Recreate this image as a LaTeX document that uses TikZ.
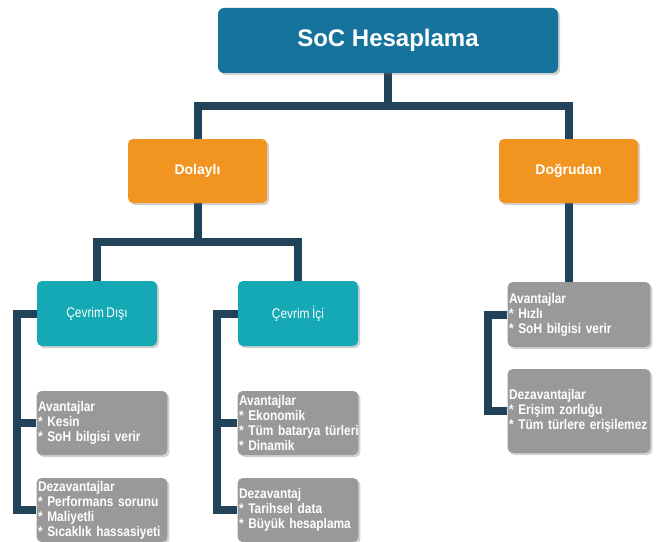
\documentclass[tikz,border=0pt]{standalone}
\usepackage{fontspec}
\setmainfont{Liberation Sans}
\newfontfamily\narrowfont[FakeStretch=0.85,WordSpace=0.75]{Liberation Sans}
\newfontfamily\narrowbold[FakeStretch=0.85,WordSpace=0.75]{Liberation Sans Bold}
\usetikzlibrary{shadows}
\definecolor{rootblue}{HTML}{15739C}
\definecolor{orangebox}{HTML}{F29420}
\definecolor{tealbox}{HTML}{15A9B6}
\definecolor{graybox}{HTML}{999999}
\definecolor{navyline}{HTML}{21435A}
\pgfdeclarelayer{bg}
\pgfsetlayers{bg,main}
\newcommand{\gl}[1]{\mbox{#1}}
\tikzset{
  px/.style={x=0.75pt,y=-0.75pt},
  shadowed/.style={drop shadow={shadow xshift=1.6pt,shadow yshift=-1.6pt,opacity=0.3,fill=black!60}},
  box/.style={rounded corners=3.75pt,text=white,inner sep=0pt,shadowed},
  rootbox/.style={box,fill=rootblue,rounded corners=4.5pt,font=\fontsize{18}{20}\selectfont\bfseries},
  orangenode/.style={box,fill=orangebox,font=\fontsize{10.5}{12}\selectfont\bfseries},
  tealnode/.style={box,fill=tealbox,font=\narrowfont\fontsize{10.5}{12}\selectfont},
  graynode/.style={box,fill=graybox,align=left,inner xsep=1pt,font=\narrowbold\fontsize{10.5}{11.25}\selectfont},
  conn/.style={draw=navyline,line width=6pt}
}
\begin{document}
\begin{tikzpicture}[px]
\useasboundingbox (0,0) rectangle (657,542);
% level 0
\node[rootbox,minimum width=255pt,minimum height=48.75pt] (root) at (388,40.5) {SoC Hesaplama};
% level 1
\node[orangenode,minimum width=104.25pt,minimum height=48pt] (dol) at (197.5,171) {Dolaylı};
\node[orangenode,minimum width=104.25pt,minimum height=48pt] (dog) at (568.5,171) {Doğrudan};
% level 2
\node[tealnode,minimum width=90pt,minimum height=48.75pt] (cd) at (97,313.5) {Çevrim Dışı};
\node[tealnode,minimum width=90pt,minimum height=48.75pt] (ci) at (298,313.5) {Çevrim İçi};
% leaves
\node[graynode,text width=96pt,minimum height=48pt] (cdA) at (102,423)
  {\gl{Avantajlar}\\\gl{* Kesin}\\\gl{* SoH bilgisi verir}};
\node[graynode,text width=96pt,minimum height=48pt] (cdD) at (102,510)
  {\gl{Dezavantajlar}\\\gl{* Performans sorunu}\\\gl{* Maliyetli}\\\gl{* Sıcaklık hassasiyeti}};
\node[graynode,text width=88.5pt,minimum height=48pt] (ciA) at (298,423)
  {\gl{Avantajlar}\\\gl{* Ekonomik}\\\gl{* Tüm batarya türleri}\\\gl{* Dinamik}};
\node[graynode,text width=88.5pt,minimum height=48pt] (ciD) at (298,510)
  {\gl{Dezavantaj}\\\gl{* Tarihsel data}\\\gl{* Büyük hesaplama}};
\node[graynode,text width=105pt,minimum height=48.75pt] (dA) at (579,314.5)
  {\gl{Avantajlar}\\\gl{* Hızlı}\\\gl{* SoH bilgisi verir}};
\node[graynode,text width=105pt,minimum height=63pt] (dD) at (579,411)
  {\gl{Dezavantajlar}\\\gl{* Erişim zorluğu}\\\gl{* Tüm türlere erişilemez}};
% connectors
\begin{pgfonlayer}{bg}
\draw[conn] (root.south) -- ++(0,33) coordinate (rb) -| (dol.north);
\draw[conn] (rb) -| (dog.north);
\draw[conn] (dol.south) -- ++(0,39) coordinate (db) -| (cd.north);
\draw[conn] (db) -| (ci.north);
\draw[conn] (dog.south) -- (dog.south |- dA.north);
\draw[conn] (cd.west) -- ++(-20,0) coordinate (cdl) |- (cdA.west);
\draw[conn] (cdl) |- (cdD.west);
\draw[conn] (ci.west) -- ++(-21,0) coordinate (cil) |- (ciA.west);
\draw[conn] (cil) |- (ciD.west);
\draw[conn] (dA.west) -- ++(-19,0) coordinate (dl) |- (dD.west);
\end{pgfonlayer}
\end{tikzpicture}
\end{document}
